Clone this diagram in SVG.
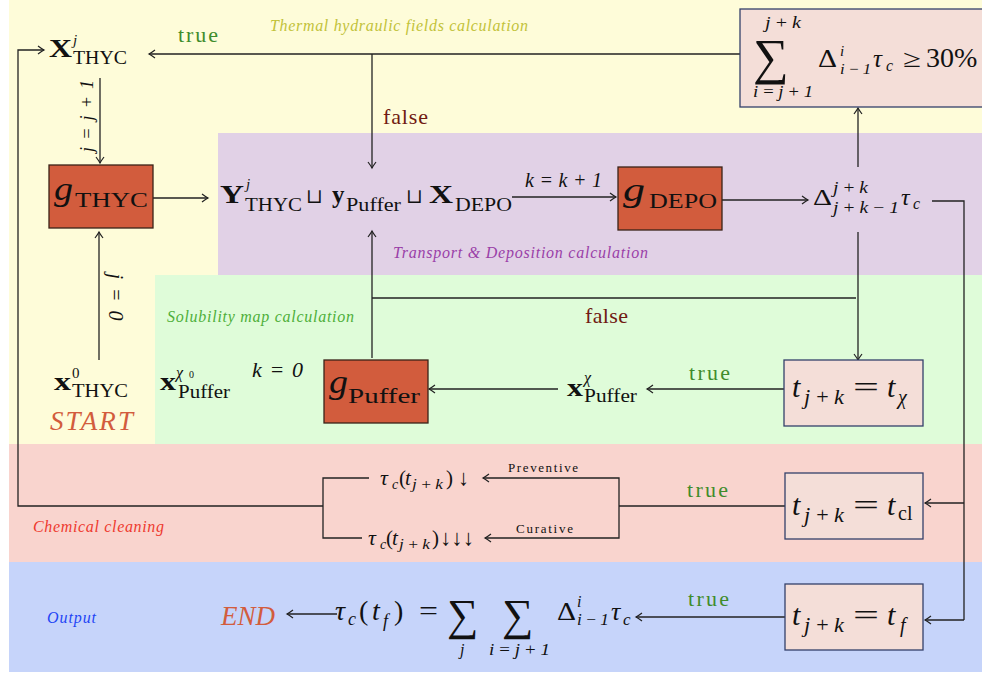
<svg xmlns="http://www.w3.org/2000/svg" width="982" height="675" viewBox="0 0 982 675">
<defs>
<marker id="ah" viewBox="-7 -5 8 10" markerWidth="8" markerHeight="10" refX="0" refY="0" orient="auto" markerUnits="userSpaceOnUse" overflow="visible">
<path d="M-6,-4 Q-2,-1 0,0 Q-2,1 -6,4" fill="none" stroke="#222" stroke-width="1.2"/>
</marker>
<style>
.m{font-family:"Liberation Serif","DejaVu Serif",serif;fill:#111}
.i{font-style:italic}
.b{font-weight:bold}
.lab{font-family:"Liberation Serif",serif;font-style:italic;font-size:16px}
.c{fill:none;stroke:#222;stroke-width:1.3}
.a{marker-end:url(#ah)}
.ob{fill:#D25C3D;stroke:#3A2318;stroke-width:1.3}
.pb{fill:#F4DED8;stroke:#34406A;stroke-width:1.3}
.tr{fill:#3F8C2C;font-family:"Liberation Serif",serif;font-size:22px}
.fa{fill:#701A12;font-family:"Liberation Serif",serif;font-size:22px}
.or{fill:#D25C3D;font-family:"Liberation Serif",serif;font-style:italic;font-size:27px}
</style>
</defs>
<g id="backgrounds">
<rect x="9" y="0" width="973" height="133" fill="#FEFCD9"/>
<rect x="9" y="133" width="146" height="311" fill="#FEFCD9"/>
<rect x="155" y="133" width="63" height="142" fill="#FEFCD9"/>
<rect x="218" y="133" width="764" height="142" fill="#E1D1E6"/>
<rect x="155" y="275" width="827" height="169" fill="#DFFCD9"/>
<rect x="9" y="444" width="973" height="118" fill="#F9D4CE"/>
<rect x="9" y="562" width="973" height="110" fill="#C6D4FA"/>
<text class="lab" x="270" y="31" fill="#C2C23A" textLength="258">Thermal hydraulic fields calculation</text>
<text class="lab" x="393" y="258" fill="#9A3FA8" textLength="255">Transport &amp; Deposition calculation</text>
<text class="lab" x="167" y="322" fill="#4EAF3A" textLength="187">Solubility map calculation</text>
<text class="lab" x="33" y="532" fill="#EE3A2E" textLength="131">Chemical cleaning</text>
<text class="lab" x="47" y="623" fill="#1F45F5" textLength="49">Output</text>
</g>
<g id="connectors">
<path class="c a" d="M740,54 H149"/>
<path class="c a" d="M372,54 V168"/>
<path class="c a" d="M100,78 V163"/>
<path class="c a" d="M153,198 H208"/>
<path class="c a" d="M99,360 V232"/>
<path class="c a" d="M323,506 H18 V50 H44"/>
<path class="c" d="M369,478 H323 V538 H362"/>
<path class="c a" d="M512,197 H616"/>
<path class="c a" d="M722,200 H808"/>
<path class="c a" d="M858,167 V108"/>
<path class="c a" d="M858,232 V360"/>
<path class="c" d="M856,298 H372"/>
<path class="c a" d="M372,358 V231"/>
<path class="c" d="M932,201 H964 V620"/>
<path class="c a" d="M964,503 H925"/>
<path class="c a" d="M964,620 H925"/>
<path class="c a" d="M558,389 H429"/>
<path class="c a" d="M784,389 H647"/>
<path class="c" d="M785,506 H619"/>
<path class="c a" d="M619,506 V478 H483"/>
<path class="c a" d="M619,506 V538 H485"/>
<path class="c a" d="M785,617 H636"/>
<path class="c a" d="M337,614 H287"/>
<text class="tr" x="178" y="42" textLength="40">true</text>
<text class="fa" x="383" y="124" textLength="45">false</text>
<text class="fa" x="585" y="323" textLength="43">false</text>
<text class="tr" x="689" y="380" textLength="41">true</text>
<text class="tr" x="687" y="497" textLength="41">true</text>
<text class="tr" x="688" y="606" textLength="41">true</text>
<text class="m i" font-size="18" transform="translate(93,116) rotate(-90)" text-anchor="middle" textLength="72">j = j + 1</text>
<text class="m i" font-size="20" transform="translate(109,297) rotate(90)" text-anchor="middle" textLength="47">j = 0</text>
<text class="m i" font-size="22" x="252" y="377" textLength="51">k = 0</text>
<text class="m i" font-size="20" x="525" y="187" textLength="77">k = k + 1</text>
<text class="m" font-size="13" x="508" y="472" textLength="70">Preventive</text>
<text class="m" font-size="13" x="516" y="533" textLength="57">Curative</text>
</g>
<g id="X_THYC_j">
<text class="m"><tspan class="b" x="49" y="57" font-size="25" textLength="23" lengthAdjust="spacingAndGlyphs">X</tspan><tspan class="i" x="73" y="45" font-size="15">j</tspan><tspan x="73" y="64" font-size="18" textLength="54" lengthAdjust="spacingAndGlyphs">THYC</tspan></text>
</g>
<g id="g_THYC">
<rect class="ob" x="49" y="165" width="104" height="63"/>
<text class="m"><tspan class="i" x="54" y="200" font-size="34" textLength="19" lengthAdjust="spacingAndGlyphs">g</tspan><tspan x="75" y="207" font-size="22" textLength="73" lengthAdjust="spacingAndGlyphs">THYC</tspan></text>
</g>
<g id="state">
<text class="m"><tspan class="b" x="220" y="203" font-size="25" textLength="24" lengthAdjust="spacingAndGlyphs">Y</tspan><tspan class="i" x="246" y="189" font-size="15">j</tspan><tspan x="245" y="211" font-size="18" textLength="57" lengthAdjust="spacingAndGlyphs">THYC</tspan><tspan x="306" y="203" font-size="20">⊔</tspan><tspan class="b" x="332" y="203" font-size="25">y</tspan><tspan x="346" y="211" font-size="18" textLength="55" lengthAdjust="spacingAndGlyphs">Puffer</tspan><tspan x="406" y="203" font-size="20">⊔</tspan><tspan class="b" x="429" y="203" font-size="25" textLength="24" lengthAdjust="spacingAndGlyphs">X</tspan><tspan x="455" y="211" font-size="18" textLength="57" lengthAdjust="spacingAndGlyphs">DEPO</tspan></text>
</g>
<g id="g_DEPO">
<rect class="ob" x="618" y="167" width="104" height="63"/>
<text class="m"><tspan class="i" x="623" y="201" font-size="34" textLength="22" lengthAdjust="spacingAndGlyphs">g</tspan><tspan x="649" y="208" font-size="22" textLength="68" lengthAdjust="spacingAndGlyphs">DEPO</tspan></text>
</g>
<g id="delta">
<text class="m"><tspan x="813" y="205" font-size="24" textLength="19" lengthAdjust="spacingAndGlyphs">Δ</tspan><tspan class="i" x="833" y="193" font-size="16" textLength="35" lengthAdjust="spacingAndGlyphs">j&#8201;+&#8201;k</tspan><tspan class="i" x="833" y="213" font-size="17" textLength="66" lengthAdjust="spacingAndGlyphs">j&#8201;+&#8201;k&#8201;−&#8201;1</tspan><tspan class="i" x="901" y="205" font-size="24">τ</tspan><tspan class="i" x="913" y="209" font-size="16">c</tspan></text>
</g>
<g id="sum_test">
<rect class="pb" x="740" y="9" width="250" height="98"/>
<text class="m"><tspan x="753" y="74" font-size="50">∑</tspan><tspan class="i" x="765" y="28" font-size="16" textLength="36" lengthAdjust="spacingAndGlyphs">j&#8201;+&#8201;k</tspan><tspan class="i" x="753" y="97" font-size="16" textLength="60" lengthAdjust="spacingAndGlyphs">i&#8201;=&#8201;j&#8201;+&#8201;1</tspan><tspan x="818" y="67" font-size="25" textLength="19" lengthAdjust="spacingAndGlyphs">Δ</tspan><tspan class="i" x="840" y="56" font-size="15">i</tspan><tspan class="i" x="840" y="74" font-size="15" textLength="31" lengthAdjust="spacingAndGlyphs">i&#8201;−&#8201;1</tspan><tspan class="i" x="873" y="67" font-size="25">τ</tspan><tspan class="i" x="886" y="71" font-size="16">c</tspan><tspan x="903" y="67" font-size="25" textLength="18" lengthAdjust="spacingAndGlyphs">≥</tspan><tspan x="926" y="67" font-size="28">30%</tspan></text>
</g>
<g id="t_chi">
<rect class="pb" x="784" y="360" width="139" height="66"/>
<text class="m"><tspan class="i" x="792" y="397" font-size="30">t</tspan><tspan class="i" x="804" y="404" font-size="20" textLength="40" lengthAdjust="spacingAndGlyphs">j&#8201;+&#8201;k</tspan><tspan x="853" y="397" font-size="30" textLength="26" lengthAdjust="spacingAndGlyphs">=</tspan><tspan class="i" x="887" y="397" font-size="30">t</tspan><tspan class="i" x="898" y="404" font-size="20">χ</tspan></text>
</g>
<g id="t_cl">
<rect class="pb" x="785" y="473" width="138" height="66"/>
<text class="m"><tspan class="i" x="792" y="515" font-size="30">t</tspan><tspan class="i" x="804" y="522" font-size="20" textLength="40" lengthAdjust="spacingAndGlyphs">j&#8201;+&#8201;k</tspan><tspan x="853" y="515" font-size="30" textLength="26" lengthAdjust="spacingAndGlyphs">=</tspan><tspan class="i" x="887" y="515" font-size="30">t</tspan><tspan x="898" y="520" font-size="20">cl</tspan></text>
</g>
<g id="t_f">
<rect class="pb" x="785" y="584" width="138" height="66"/>
<text class="m"><tspan class="i" x="792" y="625" font-size="30">t</tspan><tspan class="i" x="804" y="632" font-size="20" textLength="40" lengthAdjust="spacingAndGlyphs">j&#8201;+&#8201;k</tspan><tspan x="853" y="625" font-size="30" textLength="26" lengthAdjust="spacingAndGlyphs">=</tspan><tspan class="i" x="887" y="625" font-size="30">t</tspan><tspan class="i" x="900" y="632" font-size="20">f</tspan></text>
</g>
<g id="x_THYC_0">
<text class="m"><tspan class="b" x="54" y="390" font-size="25" textLength="17" lengthAdjust="spacingAndGlyphs">x</tspan><tspan x="72" y="378" font-size="15">0</tspan><tspan x="72" y="397" font-size="18" textLength="56" lengthAdjust="spacingAndGlyphs">THYC</tspan></text>
<text class="or" x="50" y="430" textLength="83">START</text>
</g>
<g id="x_Puffer_chi0">
<text class="m"><tspan class="b" x="160" y="390" font-size="25" textLength="16" lengthAdjust="spacingAndGlyphs">x</tspan><tspan class="i" x="176" y="378" font-size="16">χ</tspan><tspan x="189" y="378" font-size="10">0</tspan><tspan x="178" y="398" font-size="18" textLength="52" lengthAdjust="spacingAndGlyphs">Puffer</tspan></text>
</g>
<g id="g_Puffer">
<rect class="ob" x="324" y="360" width="104" height="63"/>
<text class="m"><tspan class="i" x="329" y="393" font-size="34" textLength="19" lengthAdjust="spacingAndGlyphs">g</tspan><tspan x="348" y="403" font-size="22" textLength="72" lengthAdjust="spacingAndGlyphs">Puffer</tspan></text>
</g>
<g id="x_Puffer_chi">
<text class="m"><tspan class="b" x="567" y="396" font-size="25" textLength="16" lengthAdjust="spacingAndGlyphs">x</tspan><tspan class="i" x="584" y="383" font-size="16">χ</tspan><tspan x="584" y="402" font-size="18" textLength="53" lengthAdjust="spacingAndGlyphs">Puffer</tspan></text>
</g>
<g id="preventive">
<text class="m"><tspan class="i" x="380" y="485" font-size="22">τ</tspan><tspan class="i" x="392" y="489" font-size="14">c</tspan><tspan x="399" y="485" font-size="21">(</tspan><tspan class="i" x="405" y="485" font-size="21">t</tspan><tspan class="i" x="412" y="489" font-size="15" textLength="31" lengthAdjust="spacingAndGlyphs">j&#8201;+&#8201;k</tspan><tspan x="446" y="485" font-size="21">)</tspan><tspan x="458" y="485" font-size="22">↓</tspan></text>
</g>
<g id="curative">
<text class="m"><tspan class="i" x="368" y="545" font-size="22">τ</tspan><tspan class="i" x="380" y="549" font-size="14">c</tspan><tspan x="386" y="545" font-size="21">(</tspan><tspan class="i" x="392" y="545" font-size="21">t</tspan><tspan class="i" x="399" y="549" font-size="15" textLength="31" lengthAdjust="spacingAndGlyphs">j&#8201;+&#8201;k</tspan><tspan x="432" y="545" font-size="21">)</tspan><tspan x="440" y="545" font-size="22" textLength="34" lengthAdjust="spacingAndGlyphs">↓↓↓</tspan></text>
</g>
<g id="output">
<text class="m"><tspan class="i" x="335" y="620" font-size="28">τ</tspan><tspan class="i" x="348" y="625" font-size="18">c</tspan><tspan x="359" y="620" font-size="28">(</tspan><tspan class="i" x="372" y="620" font-size="28">t</tspan><tspan class="i" x="383" y="627" font-size="18">f</tspan><tspan x="394" y="620" font-size="28">)</tspan><tspan x="419" y="620" font-size="28" textLength="19" lengthAdjust="spacingAndGlyphs">=</tspan><tspan x="447" y="630" font-size="44">∑</tspan><tspan x="502" y="630" font-size="44">∑</tspan><tspan class="i" x="460" y="655" font-size="16">j</tspan><tspan class="i" x="489" y="655" font-size="16" textLength="61" lengthAdjust="spacingAndGlyphs">i&#8201;=&#8201;j&#8201;+&#8201;1</tspan><tspan x="557" y="620" font-size="26" textLength="19" lengthAdjust="spacingAndGlyphs">Δ</tspan><tspan class="i" x="577" y="607" font-size="16">i</tspan><tspan class="i" x="577" y="625" font-size="16" textLength="32" lengthAdjust="spacingAndGlyphs">i&#8201;−&#8201;1</tspan><tspan class="i" x="611" y="620" font-size="26">τ</tspan><tspan class="i" x="623" y="625" font-size="17">c</tspan></text>
<text class="or" x="221" y="625" textLength="54">END</text>
</g>
</svg>
